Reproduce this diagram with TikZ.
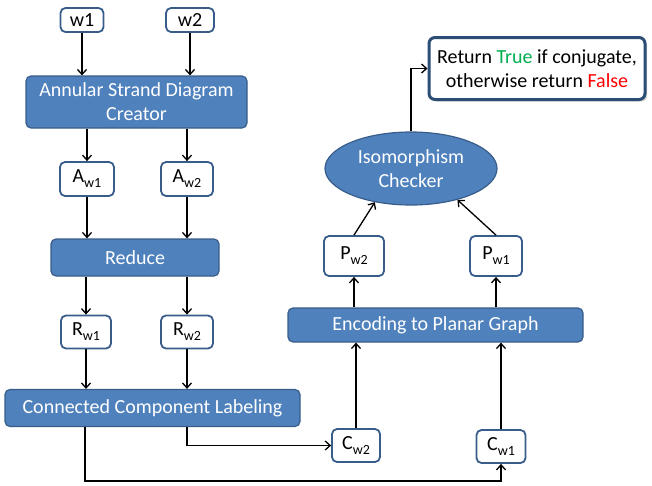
\documentclass[tikz,border=0pt]{standalone}
\usepackage{fontspec}
\setmainfont{Carlito}
\usetikzlibrary{arrows.meta,shapes.geometric,shadows}
\definecolor{boxblue}{HTML}{4F81BD}
\definecolor{boxedge}{HTML}{385D8A}
\definecolor{retedge}{HTML}{2C4D75}
\definecolor{tgreen}{HTML}{00B050}
\definecolor{tred}{HTML}{FF0000}
\newcommand{\sbx}[1]{\raisebox{-5pt}{\fontsize{14}{14}\selectfont #1}}
\begin{document}
\begin{tikzpicture}[x=1pt,y=-1pt,font=\fontsize{20}{24}\selectfont,
  bluebox/.style={draw=boxedge,line width=1.2pt,fill=boxblue,rounded corners=5pt,text=white,inner sep=0pt,align=center},
  smallbox/.style={draw=boxedge,line width=1.8pt,fill=white,rounded corners=5pt,inner sep=0pt},
  arr/.style={-{Straight Barb[length=5pt,width=9pt]},line width=1.3pt}]
\useasboundingbox (0,0) rectangle (652,485);
% top-left
\node[smallbox,minimum width=43pt,minimum height=24pt] (w1) at (82,20) {w1};
\node[smallbox,minimum width=48pt,minimum height=24pt] (w2) at (190,20) {w2};
\node[bluebox,minimum width=221pt,minimum height=52pt] (asd) at (136.5,102) {Annular Strand Diagram\\Creator};
\node[smallbox,minimum width=54pt,minimum height=34pt] (Aw1) at (87,179) {A\sbx{w1}};
\node[smallbox,minimum width=52pt,minimum height=34pt] (Aw2) at (187,179) {A\sbx{w2}};
\node[bluebox,minimum width=168pt,minimum height=37pt] (red) at (135,257.5) {Reduce};
\node[smallbox,minimum width=50pt,minimum height=33pt] (Rw1) at (86,332) {R\sbx{w1}};
\node[smallbox,minimum width=52pt,minimum height=33pt] (Rw2) at (187,332) {R\sbx{w2}};
\node[bluebox,minimum width=295pt,minimum height=37pt] (ccl) at (152.5,408) {Connected Component Labeling};
% right side
\node[smallbox,minimum width=48pt,minimum height=33pt] (Cw2) at (356,445.5) {C\sbx{w2}};
\node[smallbox,minimum width=49pt,minimum height=33pt] (Cw1) at (501,446.5) {C\sbx{w1}};
\node[bluebox,minimum width=295pt,minimum height=34pt] (enc) at (435.5,325) {Encoding to Planar Graph};
\node[smallbox,minimum width=60pt,minimum height=40pt] (Pw2) at (354,256) {P\sbx{w2}};
\node[smallbox,minimum width=52pt,minimum height=40pt] (Pw1) at (496,256) {P\sbx{w1}};
\node[ellipse,draw=boxedge,line width=1.2pt,fill=boxblue,text=white,align=center,inner sep=0pt,minimum width=172pt,minimum height=73pt] (iso) at (411,168.5) {Isomorphism\\Checker};
\node[draw=retedge,line width=3pt,fill=white,rounded corners=6pt,align=center,inner sep=0pt,minimum width=216pt,minimum height=62pt,drop shadow={opacity=0.35,shadow xshift=2pt,shadow yshift=-2pt}] (ret) at (537,68.5) {Return \textcolor{tgreen}{True} if conjugate,\\otherwise return \textcolor{tred}{False}};
% helper coordinates
\coordinate (xl) at (85,481);
\coordinate (xr) at (187,0);
% connectors
\draw[arr] (w1.south) -- (w1.south |- asd.north);
\draw[arr] (w2.south) -- (w2.south |- asd.north);
\draw[arr] (Aw1.north |- asd.south) -- (Aw1.north);
\draw[arr] (Aw2.north |- asd.south) -- (Aw2.north);
\draw[arr] (Aw1.south) -- (Aw1.south |- red.north);
\draw[arr] (Aw2.south) -- (Aw2.south |- red.north);
\draw[arr] (Rw1.north |- red.south) -- (Rw1.north);
\draw[arr] (Rw2.north |- red.south) -- (Rw2.north);
\draw[arr] (Rw1.south) -- (Rw1.south |- ccl.north);
\draw[arr] (Rw2.south) -- (Rw2.south |- ccl.north);
\draw[arr] (ccl.south -| xr) |- (Cw2.west);
\draw[arr] (ccl.south -| xl) -- (xl) -| (Cw1.south);
\draw[arr] (Cw2.north) -- (Cw2.north |- enc.south);
\draw[arr] (Cw1.north) -- (Cw1.north |- enc.south);
\draw[arr] (Pw2.south |- enc.north) -- (Pw2.south);
\draw[arr] (Pw1.south |- enc.north) -- (Pw1.south);
\draw[arr] (Pw2.north) -- (iso.223);
\draw[arr] (Pw1.north) -- (iso.326);
\draw[arr] (iso.north) |- (ret.west);
\end{tikzpicture}
\end{document}
